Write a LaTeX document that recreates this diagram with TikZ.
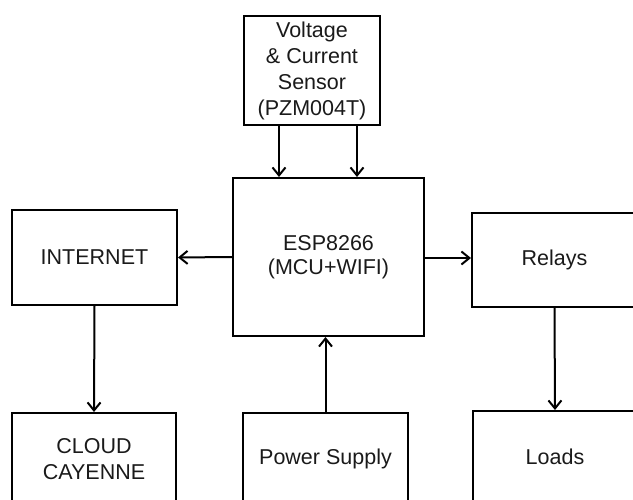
\documentclass[tikz,border=0pt]{standalone}
\usepackage{fontspec}
\setmainfont{Liberation Sans}
\usepackage{xcolor}
\usepackage{tikz}
\usetikzlibrary{arrows.meta,positioning}
\definecolor{linec}{HTML}{000000}
\definecolor{txtc}{HTML}{1A1A1A}
\tikzset{
  ar/.style={-{Straight Barb[length=8pt,width=13pt,line width=2pt]},line width=2pt,linec},
  blk/.style={rectangle,draw=linec,line width=2pt,fill=white,align=center,text=txtc,inner sep=2pt,
    font=\fontsize{21.5}{26}\selectfont}
}
\begin{document}
\begin{tikzpicture}[x=1pt,y=-1pt]
\useasboundingbox (0,0) rectangle (633,500);
\clip (0,0) rectangle (633,500);
\node[blk,minimum width=136pt,minimum height=109pt] (sensor) at (312,70.5) {Voltage\\\& Current\\Sensor\\(PZM004T)};
\node[blk,minimum width=191pt,minimum height=158pt,font=\fontsize{21.5}{24}\selectfont] (esp) at (328.5,257) {ESP8266\\(MCU+WIFI)};
\node[blk,minimum width=165pt,minimum height=95pt] (inet) at (94.5,257.5) {INTERNET};
\node[blk,minimum width=165pt,minimum height=94pt] (relays) at (554.5,260) {Relays};
\node[blk,minimum width=164pt,minimum height=93pt] (cloud) at (94,459.5) {CLOUD\\CAYENNE};
\node[blk,minimum width=165pt,minimum height=92pt] (power) at (325.5,459) {Power Supply};
\node[blk,minimum width=164pt,minimum height=92pt] (loads) at (555,457) {Loads};
% links
\draw[ar] ([xshift=-33pt]sensor.south) -- ([xshift=-33pt]sensor.south |- esp.north);
\draw[ar] ([xshift=45pt]sensor.south) -- ([xshift=45pt]sensor.south |- esp.north);
\draw[ar] (esp.west) -- (inet.east);
\draw[ar] ([yshift=-1pt]esp.east) -- ([yshift=-1pt]esp.east -| relays.west);
\draw[ar] (inet.south) -- (cloud.north);
\draw[ar] (power.north) -- (power.north |- esp.south);
\draw[ar] (relays.south) -- (loads.north);
\end{tikzpicture}
\end{document}
